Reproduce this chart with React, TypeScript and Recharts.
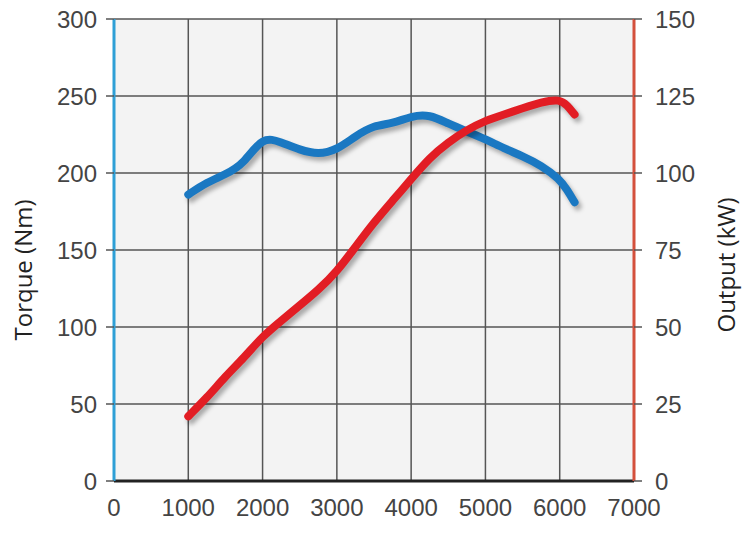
import React from "react";
import { LineChart, Line, XAxis, YAxis, CartesianGrid, Label } from "recharts";

const rpm = [1000, 1250, 1500, 1750, 2000, 2250, 2500, 2750, 3000, 3250, 3500, 3750, 4000, 4250, 4500, 4750, 5000, 5250, 5500, 5750, 6000, 6100, 6200];
const torqueNm = [186, 194, 199, 206, 224, 220, 215, 212, 215, 224, 231, 232, 237, 238, 232, 227, 222, 216, 211, 205, 196, 189, 181];
const outputKw = [21, 27, 34, 40, 47, 52, 57, 62, 68, 76, 84, 91, 98, 105, 110, 114, 117, 119, 121, 123, 124, 122, 119];

const rpmTicks = [0, 1000, 2000, 3000, 4000, 5000, 6000, 7000];
const torqueTicks = [0, 50, 100, 150, 200, 250, 300];
const outputTicks = [0, 25, 50, 75, 100, 125, 150];

const data = rpm.map((r, i) => ({ rpm: r, torque: torqueNm[i], output: outputKw[i] }));

const FONT = "'Liberation Sans', Arial, sans-serif";
const tickStyle = { fill: "#444", fontSize: 24, fontFamily: FONT };

const sideLabel = (text: string, x: number, y: number) => () => (
  <text
    x={x}
    y={y}
    transform={`rotate(-90, ${x}, ${y})`}
    textAnchor="middle"
    dominantBaseline="central"
    fill="#222"
    fontSize={24}
    fontFamily="'Open Sans', sans-serif"
    fontWeight={500}
  >
    {text}
  </text>
);

export default function App() {
  return (
    <div style={{ position: "absolute", left: 0, top: 0, width: 750, height: 534, background: "#fff" }}>
      <style>{`.recharts-line-curve { filter: drop-shadow(3px 4px 2px rgba(0,0,0,0.3)); }`}</style>
      <LineChart width={750} height={534} data={data} margin={{ top: 19, right: 0, bottom: 0, left: 0 }}>
        <CartesianGrid yAxisId="torque" stroke="#555" strokeWidth={1.5} fill="#f3f3f3" />
        <XAxis
          dataKey="rpm"
          type="number"
          domain={[0, 7000]}
          ticks={rpmTicks}
          tickLine={false}
          axisLine={{ stroke: "#222", strokeWidth: 3 }}
          tick={tickStyle}
          tickMargin={12}
          height={53}
          interval={0}
        />
        <YAxis
          yAxisId="torque"
          domain={[0, 300]}
          ticks={torqueTicks}
          width={114}
          axisLine={{ stroke: "#2e9fd6", strokeWidth: 3 }}
          tickLine={{ stroke: "#555", strokeWidth: 1.5 }}
          tickSize={8}
          tickMargin={9}
          tick={tickStyle}
          interval={0}
        >
          <Label content={sideLabel("Torque (Nm)", 22, 270)} />
        </YAxis>
        <YAxis
          yAxisId="output"
          orientation="right"
          domain={[0, 150]}
          ticks={outputTicks}
          width={116}
          axisLine={{ stroke: "#d4503c", strokeWidth: 3 }}
          tickLine={{ stroke: "#555", strokeWidth: 1.5 }}
          tickSize={8}
          tickMargin={13}
          tick={tickStyle}
          interval={0}
        >
          <Label content={sideLabel("Output (kW)", 725, 265)} />
        </YAxis>
        <Line
          yAxisId="torque"
          dataKey="torque"
          type="basis"
          stroke="#1a78c2"
          strokeWidth={8}
          dot={false}
          strokeLinecap="round"
          isAnimationActive={false}
        />
        <Line
          yAxisId="output"
          dataKey="output"
          type="basis"
          stroke="#e21d24"
          strokeWidth={8}
          dot={false}
          strokeLinecap="round"
          isAnimationActive={false}
        />
      </LineChart>
    </div>
  );
}
